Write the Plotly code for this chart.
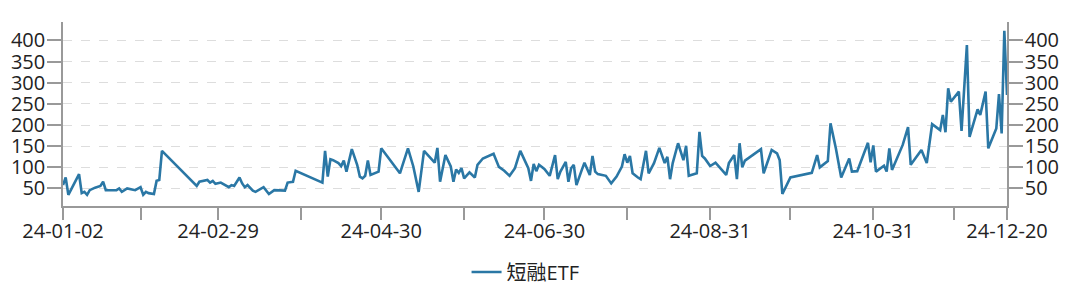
import plotly.graph_objects as go

dates = [
    "2024-01-02", "2024-01-03", "2024-01-04", "2024-01-08", "2024-01-09", "2024-01-10",
    "2024-01-11", "2024-01-12", "2024-01-14", "2024-01-16", "2024-01-17", "2024-01-18",
    "2024-01-20", "2024-01-22", "2024-01-23", "2024-01-24", "2024-01-26", "2024-01-29",
    "2024-01-31", "2024-02-01", "2024-02-02", "2024-02-03", "2024-02-05", "2024-02-06",
    "2024-02-07", "2024-02-08", "2024-02-21", "2024-02-22", "2024-02-25", "2024-02-26",
    "2024-02-27", "2024-02-28", "2024-03-01", "2024-03-03", "2024-03-04", "2024-03-05",
    "2024-03-06", "2024-03-08", "2024-03-09", "2024-03-10", "2024-03-11", "2024-03-13",
    "2024-03-14", "2024-03-17", "2024-03-19", "2024-03-21", "2024-03-23", "2024-03-25",
    "2024-03-26", "2024-03-28", "2024-03-29", "2024-04-08", "2024-04-09", "2024-04-10",
    "2024-04-11", "2024-04-12", "2024-04-14", "2024-04-15", "2024-04-16", "2024-04-17",
    "2024-04-19", "2024-04-21", "2024-04-22", "2024-04-23", "2024-04-24", "2024-04-25",
    "2024-04-26", "2024-04-29", "2024-04-30", "2024-05-07", "2024-05-08", "2024-05-10",
    "2024-05-12", "2024-05-14", "2024-05-16", "2024-05-18", "2024-05-20", "2024-05-21",
    "2024-05-22", "2024-05-24", "2024-05-26", "2024-05-27", "2024-05-28", "2024-05-29",
    "2024-05-30", "2024-05-31", "2024-06-02", "2024-06-04", "2024-06-05", "2024-06-07",
    "2024-06-09", "2024-06-11", "2024-06-13", "2024-06-15", "2024-06-17", "2024-06-19",
    "2024-06-21", "2024-06-23", "2024-06-24", "2024-06-25", "2024-06-26", "2024-06-27",
    "2024-06-28", "2024-06-30", "2024-07-02", "2024-07-04", "2024-07-05", "2024-07-06",
    "2024-07-08", "2024-07-09", "2024-07-10", "2024-07-11", "2024-07-12", "2024-07-14",
    "2024-07-15", "2024-07-17", "2024-07-18", "2024-07-19", "2024-07-20", "2024-07-23",
    "2024-07-25", "2024-07-27", "2024-07-29", "2024-07-30", "2024-07-31", "2024-08-01",
    "2024-08-02", "2024-08-04", "2024-08-05", "2024-08-07", "2024-08-08", "2024-08-10",
    "2024-08-12", "2024-08-14", "2024-08-15", "2024-08-16", "2024-08-17", "2024-08-19",
    "2024-08-21", "2024-08-22", "2024-08-23", "2024-08-26", "2024-08-27", "2024-08-28",
    "2024-08-29", "2024-08-31", "2024-09-02", "2024-09-06", "2024-09-07", "2024-09-09",
    "2024-09-10", "2024-09-11", "2024-09-12", "2024-09-13", "2024-09-19", "2024-09-20",
    "2024-09-23", "2024-09-25", "2024-09-26", "2024-09-27", "2024-09-30", "2024-10-08",
    "2024-10-10", "2024-10-11", "2024-10-14", "2024-10-15", "2024-10-17", "2024-10-19",
    "2024-10-22", "2024-10-23", "2024-10-25", "2024-10-29", "2024-10-30", "2024-10-31",
    "2024-11-01", "2024-11-04", "2024-11-05", "2024-11-06", "2024-11-07", "2024-11-11",
    "2024-11-13", "2024-11-14", "2024-11-18", "2024-11-20", "2024-11-22", "2024-11-25",
    "2024-11-26", "2024-11-27", "2024-11-28", "2024-11-29", "2024-12-02", "2024-12-03",
    "2024-12-05", "2024-12-06", "2024-12-09", "2024-12-10", "2024-12-12", "2024-12-13",
    "2024-12-16", "2024-12-17", "2024-12-18", "2024-12-19", "2024-12-20",
]

values = [
    58, 76, 35, 84, 39, 42,
    35, 46, 52, 56, 66, 46,
    46, 46, 50, 42, 50, 46,
    53, 35, 42, 39, 37, 68,
    70, 139, 56, 66, 70, 64,
    68, 61, 64, 56, 53, 58,
    56, 76, 62, 53, 58, 45,
    42, 53, 37, 46, 45, 45,
    64, 66, 92, 64, 139, 78,
    119, 117, 110, 103, 116, 90,
    143, 106, 78, 74, 80, 116,
    82, 90, 145, 86, 106, 145,
    102, 42, 139, 125, 111, 146,
    66, 129, 102, 66, 95, 87,
    98, 74, 88, 76, 106, 121,
    127, 132, 101, 92, 80, 98,
    139, 110, 98, 68, 108, 91,
    106, 96, 80, 129, 72, 90,
    113, 66, 98, 106, 58, 94,
    111, 82, 127, 90, 84, 80,
    62, 78, 102, 131, 111, 127,
    86, 76, 72, 139, 86, 110,
    146, 110, 125, 72, 110, 157,
    117, 151, 80, 86, 184, 127,
    121, 103, 111, 82, 110, 129,
    72, 157, 100, 116, 143, 86,
    141, 133, 117, 37, 76, 87,
    129, 100, 115, 204, 145, 76,
    121, 90, 91, 158, 112, 152,
    90, 104, 90, 145, 94, 153,
    195, 106, 141, 110, 202, 188,
    224, 183, 287, 255, 279, 186,
    389, 172, 237, 224, 279, 145,
    192, 273, 180, 423, 271,
]

series_name = "短融ETF"

x_tick_vals = [
    "2024-01-02", "2024-01-31", "2024-02-29", "2024-03-31", "2024-04-30", "2024-05-31",
    "2024-06-30", "2024-07-31", "2024-08-31", "2024-09-30", "2024-10-31", "2024-11-30",
    "2024-12-20",
]
x_tick_text = [
    "24-01-02", "", "24-02-29", "", "24-04-30", "", "24-06-30", "", "24-08-31", "",
    "24-10-31", "", "24-12-20",
]
y_tick_vals = [50, 100, 150, 200, 250, 300, 350, 400]

LINE_COLOR = "#2a77a5"
AXIS_COLOR = "#999999"
TEXT_COLOR = "#222222"
FONT = "Open Sans, Noto Sans CJK SC, sans-serif"

fig = go.Figure()
fig.add_trace(go.Scatter(
    x=dates, y=values, mode="lines", name=series_name,
    line=dict(color=LINE_COLOR, width=2.6),
))
fig.add_trace(go.Scatter(
    x=dates, y=values, mode="lines", yaxis="y2", showlegend=False,
    line=dict(color="rgba(0,0,0,0)", width=0), hoverinfo="skip",
))

y_range = [8.6, 443.7]

fig.update_layout(
    width=1080, height=297,
    margin=dict(l=63, r=73, t=22, b=91, autoexpand=False),
    paper_bgcolor="white", plot_bgcolor="white",
    font=dict(family=FONT, size=20, color=TEXT_COLOR),
    showlegend=True,
    legend=dict(orientation="h", x=0.49, xanchor="center",
                yref="container", y=0.084, yanchor="middle",
                font=dict(size=20, family=FONT, color=TEXT_COLOR)),
    xaxis=dict(
        type="date", range=["2024-01-02", "2024-12-20"],
        tickmode="array", tickvals=x_tick_vals, ticktext=x_tick_text,
        ticks="outside", ticklen=12, tickcolor=AXIS_COLOR, tickwidth=1.5,
        ticklabelstandoff=-6,
        showline=True, linecolor=AXIS_COLOR, linewidth=1.5,
        showgrid=False, zeroline=False,
        tickfont=dict(size=20, color=TEXT_COLOR),
    ),
    yaxis=dict(
        range=y_range, tickmode="array", tickvals=y_tick_vals,
        ticks="outside", ticklen=14, tickcolor=AXIS_COLOR, tickwidth=1.5,
        ticklabelstandoff=-2,
        showline=True, linecolor=AXIS_COLOR, linewidth=1.5,
        showgrid=True, gridcolor="#dddddd", griddash="dash", gridwidth=1,
        zeroline=False, tickfont=dict(size=20, color=TEXT_COLOR),
    ),
    yaxis2=dict(
        range=y_range, tickmode="array", tickvals=y_tick_vals,
        overlaying="y", side="right",
        ticks="outside", ticklen=14, tickcolor=AXIS_COLOR, tickwidth=1.5,
        ticklabelstandoff=-2,
        showline=True, linecolor=AXIS_COLOR, linewidth=1.5,
        showgrid=False, zeroline=False, tickfont=dict(size=20, color=TEXT_COLOR),
    ),
)

fig.write_html("out.html")
